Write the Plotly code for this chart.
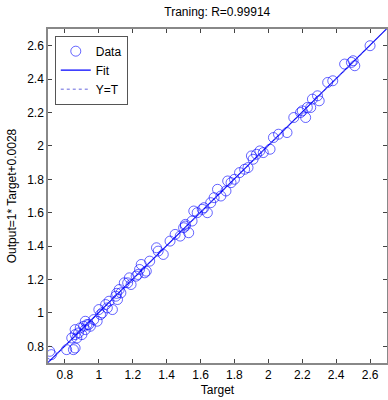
import plotly.graph_objects as go

targets = [0.71, 0.72, 0.81, 0.85, 0.86, 0.84, 0.86, 0.87, 0.88, 0.86, 0.90, 0.91, 0.92, 0.93,
           0.92, 0.95, 0.97, 0.99, 1.00, 1.02, 1.04, 1.05, 1.06, 1.08, 1.10, 1.105, 1.11, 1.13,
           1.15, 1.17, 1.18, 1.19, 1.22, 1.23, 1.24, 1.25, 1.27, 1.28, 1.30, 1.34, 1.35, 1.38,
           1.48, 1.50, 1.51, 1.53, 1.55, 1.51, 1.56, 1.58, 1.61, 1.64, 1.66, 1.70, 1.75, 1.76,
           1.80, 1.83, 1.86, 1.91, 1.93, 1.90, 1.95, 2.01, 2.03, 2.11, 2.15, 2.19, 2.22, 2.25,
           2.29, 2.30, 2.23, 2.26, 2.35, 2.38, 2.45, 2.49, 2.51, 2.60, 0.89, 0.94, 1.01, 1.12,
           1.42, 1.62, 1.72, 1.78, 1.88, 1.97, 2.06, 2.20, 1.45, 1.68, 2.50]
outputs = [0.77, 0.75, 0.78, 0.78, 0.79, 0.85, 0.87, 0.85, 0.88, 0.90, 0.87, 0.92, 0.95, 0.93,
           0.90, 0.92, 0.96, 0.95, 1.02, 1.00, 1.05, 1.03, 1.07, 1.02, 1.10, 1.117, 1.08, 1.12,
           1.18, 1.18, 1.21, 1.17, 1.22, 1.23, 1.26, 1.29, 1.24, 1.25, 1.31, 1.39, 1.37, 1.35,
           1.46, 1.51, 1.53, 1.48, 1.55, 1.52, 1.61, 1.60, 1.62, 1.60, 1.66, 1.74, 1.73, 1.79,
           1.80, 1.84, 1.86, 1.92, 1.95, 1.94, 1.97, 1.98, 2.05, 2.08, 2.17, 2.20, 2.17, 2.23,
           2.30, 2.27, 2.23, 2.28, 2.38, 2.39, 2.49, 2.50, 2.48, 2.60, 0.91, 0.93, 0.99, 1.14,
           1.43, 1.63, 1.70, 1.78, 1.87, 1.96, 2.07, 2.21, 1.47, 1.69, 2.51]

fit_slope = 1.0
fit_intercept = 0.0028
line_x = [0.7, 2.7]
tick_vals = [0.8, 1, 1.2, 1.4, 1.6, 1.8, 2, 2.2, 2.4, 2.6]
tick_text = ["0.8", "1", "1.2", "1.4", "1.6", "1.8", "2", "2.2", "2.4", "2.6"]

FONT = "Liberation Sans, Arial"

fig = go.Figure()
fig.add_trace(go.Scatter(
    x=targets, y=outputs, mode="markers", name="Data",
    marker=dict(symbol="circle-open", size=10, color="rgba(0,0,255,0.6)",
                line=dict(width=1, color="rgba(0,0,255,0.6)"))))
fig.add_trace(go.Scatter(
    x=line_x, y=[fit_slope * v + fit_intercept for v in line_x], mode="lines", name="Fit",
    line=dict(color="#0000ff", width=1.2)))
fig.add_trace(go.Scatter(
    x=line_x, y=line_x, mode="lines", name="Y=T",
    line=dict(color="#6666dd", width=1, dash="dot")))

axis_common = dict(
    showline=True, linecolor="#888888", linewidth=1.5, mirror="ticks",
    ticks="inside", ticklen=4, tickcolor="#444444", showgrid=False, zeroline=False,
    tickfont=dict(family=FONT, size=12, color="black"),
    range=[0.7, 2.7], tickvals=tick_vals, ticktext=tick_text,
)

fig.update_layout(
    width=388, height=400,
    margin=dict(l=48, r=1, t=29, b=37, autoexpand=False),
    paper_bgcolor="white", plot_bgcolor="white",
    title=dict(text="Traning: R=0.99914", x=0.56, xanchor="center", y=0.97, yanchor="middle",
               font=dict(family=FONT, size=12, color="black")),
    xaxis=dict(title=dict(text="Target", standoff=4,
                          font=dict(family=FONT, size=12, color="black")),
               **axis_common),
    yaxis=dict(title=dict(text="Output=1* Target+0.0028", standoff=8,
                          font=dict(family=FONT, size=12, color="black")),
               **axis_common),
    legend=dict(x=0.02, y=0.98, xanchor="left", yanchor="top", bgcolor="white",
                bordercolor="#555555", borderwidth=1, tracegroupgap=0,
                font=dict(family=FONT, size=12, color="black"),
                itemwidth=30),
    showlegend=True,
)

fig.write_html("out.html", config={"displayModeBar": False},
               post_script="document.body.style.margin='0';")
